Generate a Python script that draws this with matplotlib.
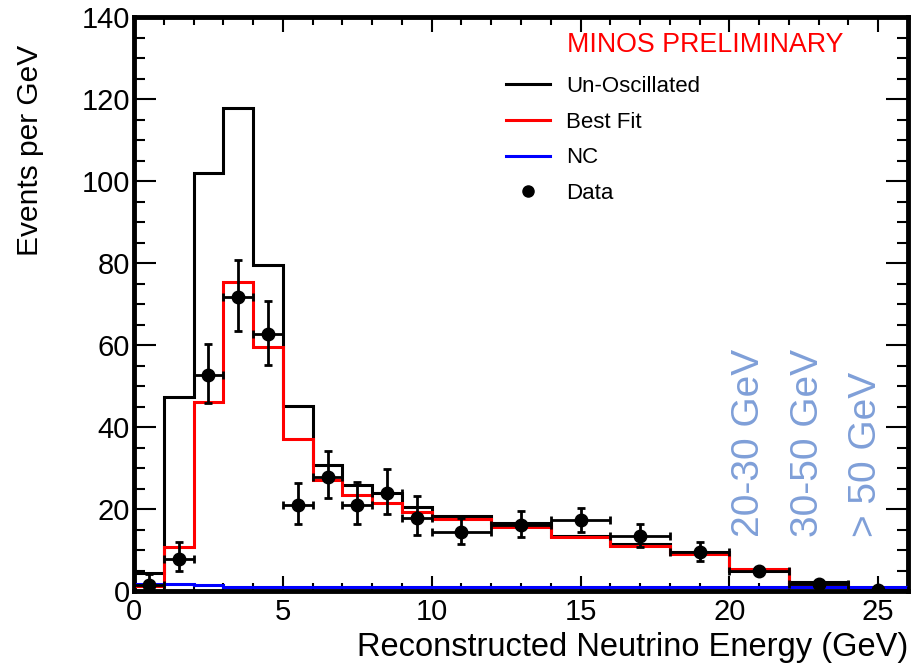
import matplotlib
matplotlib.use("Agg")
import matplotlib.pyplot as plt
from matplotlib.lines import Line2D
from matplotlib.ticker import MultipleLocator
import numpy as np

plt.rcParams['font.family'] = ['Liberation Sans', 'DejaVu Sans']

# ---- data ----
edges = [0, 1, 2, 3, 4, 5, 6, 7, 8, 9, 10, 12, 14, 16, 18, 20, 22, 24, 26]
unoscillated = [4.5, 47.4, 102.0, 117.8, 79.6, 45.1, 30.8, 25.8, 23.9, 20.6,
                18.2, 16.5, 13.5, 11.4, 9.5, 4.8, 2.1, 0.0]
best_fit = [1.2, 10.8, 46.2, 75.3, 59.6, 37.1, 27.1, 23.4, 21.4, 19.3,
            17.5, 15.7, 13.1, 10.9, 9.1, 5.4, 1.5, 0.0]
nc = [1.8, 1.8, 1.4, 0.95, 0.9, 0.9, 0.9, 0.9, 0.9, 0.9,
      0.9, 0.9, 0.9, 0.9, 0.9, 0.9, 0.9, 0.9]

data_x = [0.5, 1.5, 2.5, 3.5, 4.5, 5.5, 6.5, 7.5, 8.5, 9.5,
          11, 13, 15, 17, 19, 21, 23, 25]
data_y = [1.5, 7.8, 52.8, 71.8, 62.6, 21.0, 27.9, 21.0, 24.0, 17.7,
          14.3, 16.2, 17.3, 13.3, 9.4, 4.8, 1.8, 0.2]
err_lo = [1.5, 2.8, 7.0, 8.3, 7.5, 4.7, 5.3, 4.7, 5.3, 4.0,
          2.8, 3.0, 2.8, 2.5, 2.2, 1.0, 0.6, 0.2]
err_hi = [2.6, 4.2, 7.5, 8.9, 8.2, 5.4, 6.2, 5.5, 5.8, 5.5,
          3.4, 3.2, 3.0, 3.0, 2.5, 1.1, 0.6, 0.3]
x_half = [0.5] * 10 + [1.0] * 8

range_labels = ["20-30 GeV", "30-50 GeV", "> 50 GeV"]
range_label_x = [20.65, 22.65, 24.6]

# ---- figure ----
W, H = 914, 664
fig = plt.figure(figsize=(W / 100, H / 100), dpi=100)
L, R, B, T = 134, 908, 591, 17
ax = fig.add_axes([L / W, 1 - B / H, (R - L) / W, (B - T) / H])

ax.stairs(unoscillated, edges, color='black', lw=2.2, baseline=None, zorder=2)
ax.stairs(best_fit, edges, color='#ff0000', lw=2.2, baseline=None, zorder=3)
ax.stairs(nc, edges, color='#0000ff', lw=2.2, baseline=None, zorder=4)
ax.errorbar(data_x, data_y, yerr=[err_lo, err_hi], xerr=x_half, fmt='o',
            color='black', ms=9, elinewidth=2.0, capsize=3, capthick=2.0,
            zorder=5, clip_on=True)

for lab, xx in zip(range_labels, range_label_x):
    ax.text(xx, 13.2, lab, rotation=90, ha='center', va='bottom',
            color='#7f9fd8', fontsize=28)

ax.set_xlim(0, 26)
ax.set_ylim(0, 140)
ax.xaxis.set_major_locator(MultipleLocator(5))
ax.xaxis.set_minor_locator(MultipleLocator(1))
ax.yaxis.set_major_locator(MultipleLocator(20))
ax.yaxis.set_minor_locator(MultipleLocator(5))
ax.tick_params(which='both', direction='in', top=True, right=True,
               labelsize=21, width=1.5, pad=5)
ax.tick_params(axis='y', which='both', pad=3)
ax.tick_params(axis='y', which='major', length=16)
ax.tick_params(axis='y', which='minor', length=8)
ax.tick_params(axis='x', which='major', length=11)
ax.tick_params(axis='x', which='minor', length=6)
for s in ax.spines.values():
    s.set_linewidth(3.5)

ax.set_xlabel("Reconstructed Neutrino Energy (GeV)", fontsize=23.5, loc='right')
ax.xaxis.set_label_coords(1.0, (B - 632) / (B - T))
ax.xaxis.label.set_va('top')
ax.set_ylabel("Events per GeV", fontsize=21.5, loc='top')
ax.yaxis.set_label_coords((44 - L) / (R - L), (B - 45) / (B - T))

fig.text(567 / W, 1 - 45 / H, "MINOS PRELIMINARY", color='#ff0000',
         fontsize=19.3, ha='left', va='center')

handles = [Line2D([], [], color='black', lw=2.2),
           Line2D([], [], color='#ff0000', lw=2.2),
           Line2D([], [], color='#0000ff', lw=2.2),
           Line2D([], [], color='black', marker='o', ls='none', ms=8)]
labels = ["Un-Oscillated", "Best Fit", "NC", "Data"]
ax.legend(handles, labels, loc='upper left', frameon=False, fontsize=16,
          bbox_to_anchor=(506 / W, 1 - 76 / H), bbox_transform=fig.transFigure,
          borderpad=0, borderaxespad=0, handlelength=2.0, handletextpad=0.72,
          labelspacing=0.66)

fig.savefig("out.png", dpi=100)
